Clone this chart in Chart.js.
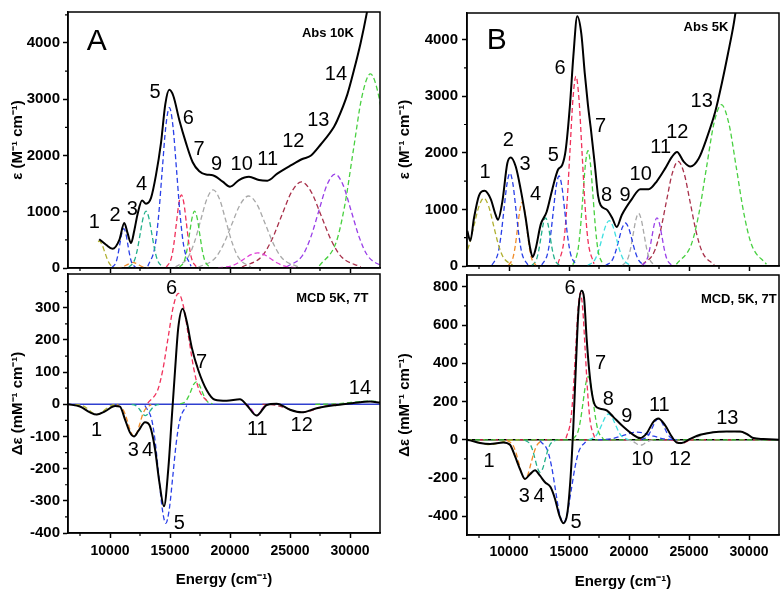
<html>
<head>
<script src="https://cdn.jsdelivr.net/npm/chart.js@4"></script>
<style>
  body { margin:0; background:#fff; width:784px; height:592px; position:relative; overflow:hidden; }
  canvas { position:absolute; }
</style>
</head>
<body>
<canvas id="absA" width="384" height="280" style="left:0;top:0"></canvas>
<canvas id="absB" width="394" height="280" style="left:390px;top:0"></canvas>
<canvas id="mcdA" width="384" height="330" style="left:0;top:262px"></canvas>
<canvas id="mcdB" width="394" height="330" style="left:390px;top:262px"></canvas>
<script>
// ---- data (energy in cm-1) ----
const xMajor = [10000, 15000, 20000, 25000, 30000];
const xMinor = [7500, 12500, 17500, 22500, 27500];

const OLIVE = '#b0b030', BLUE = '#2a40e8', ORANGE = '#f08c28', TEAL = '#22b08a',
      RED = '#f0305a', GREEN = '#48d040', GRAY = '#a8a8a8', MAGENTA = '#e040d8',
      MAROON = '#a8304a', PURPLE = '#9a40e8', CYAN = '#40e0e0';

// panel A, absorption 10K
const absA = [[9100,512],[9670,414],[10220,340],[10780,500],[11190,800],[11470,615],[11750,443],[12030,672],[12300,960],
  [12670,1200],[13000,1143],[13420,1247],[13830,1650],[14250,2224],[14610,2914],[14940,3167],[15280,3057],[15780,2626],
  [16330,2224],[16890,1880],[17440,1719],[18000,1661],[18560,1650],[19390,1534],[20000,1445],[20750,1563],[21580,1620],
  [22420,1563],[23110,1552],[23940,1678],[25060,1822],[26030,1937],[26720,1994],[27560,2195],[28670,2512],[28940,2626],
  [29780,3086],[30330,3517],[30890,4005],[31390,4522],[31700,4900]];
const absABands = [
  [[9000,470],[9100,480],[9325,423],[9550,291],[9775,156],[10000,65],[10450,5],[11000,0]],
  [[10160,8],[10490,95],[10655,228],[10820,425],[10985,617],[11150,700],[11315,617],[11480,425],[11645,228],[11810,95],[12140,8]],
  [[10550,1],[11000,14],[11450,61],[11675,88],[11900,100],[12125,88],[12350,61],[12800,14],[13250,1]],
  [[11560,11],[12040,136],[12280,328],[12520,613],[12760,891],[13000,1010],[13240,891],[13480,613],[13720,328],[13960,136],[14440,11]],
  [[13150,31],[13750,385],[14050,926],[14350,1730],[14650,2514],[14950,2850],[15250,2514],[15550,1730],[15850,926],[16150,385],[16750,31]],
  [[14690,14],[15110,176],[15320,423],[15530,789],[15740,1147],[15950,1300],[16160,1147],[16370,789],[16580,423],[16790,176],[17210,14]],
  [[15790,11],[16210,136],[16420,328],[16630,613],[16840,891],[17050,1010],[17260,891],[17470,613],[17680,328],[17890,136],[18310,11]],
  [[15450,15],[16500,188],[17025,452],[17550,844],[18075,1226],[18600,1390],[19125,1226],[19650,844],[20175,452],[20700,188],[21750,15]],
  [[17350,14],[18750,173],[19450,416],[20150,777],[20850,1129],[21550,1280],[22250,1129],[22950,777],[23650,416],[24350,173],[25750,14]],
  [[19000,3],[20100,36],[20650,88],[21200,164],[21750,238],[22300,270],[22850,238],[23400,164],[23950,88],[24500,36],[25600,3]],
  [[21000,17],[22650,207],[23475,497],[24300,929],[25125,1349],[25950,1530],[26775,1349],[27600,929],[28425,497],[29250,207],[30900,17]],
  [[24700,18],[26050,225],[26725,543],[27400,1014],[28075,1473],[28750,1670],[29425,1473],[30100,1014],[30775,543],[31450,225],[32800,18]],
  [[27440,38],[28860,466],[29570,1121],[30280,2094],[30990,3043],[31700,3450],[32410,3043],[33120,2094]]
];
const absAColors = [OLIVE, BLUE, ORANGE, TEAL, BLUE, RED, GREEN, GRAY, GRAY, MAGENTA, MAROON, PURPLE, GREEN];
const absALabels = [[8690,816,'1'],[10420,931,'2'],[11860,1046,'3'],[12640,1488,'4'],[13750,3115,'5'],[16530,2655,'6'],
  [17420,2109,'7'],[18890,1840,'9'],[20970,1840,'10'],[23140,1936,'11'],[25280,2253,'12'],[27360,2626,'13'],[28830,3431,'14']];

// panel B, absorption 5K
const absB = [[6520,620],[6780,445],[7080,844],[7500,1245],[7970,1330],[8470,1187],[8890,902],[9080,817],[9440,1130],
  [9860,1815],[10140,1918],[10560,1758],[10970,1358],[11390,844],[11750,330],[11970,160],[12220,303],[12640,731],
  [13140,959],[13610,1358],[14080,1700],[14440,1786],[14720,2043],[15080,2842],[15360,3699],[15690,4413],[16030,4098],
  [16310,3413],[16580,2842],[16810,2443],[17140,1815],[17420,1245],[17640,1074],[18190,988],[18610,844],[18980,690],
  [19400,902],[20250,1187],[20940,1358],[21640,1358],[22330,1501],[23030,1729],[23580,1929],[24000,2015],[24560,1844],
  [25110,1758],[25810,1900],[26500,2272],[27190,2728],[27750,3242],[28250,3755],[28720,4269],[29100,4800]];
const absBBands = [
  [[5500,13],[6300,162],[6700,390],[7100,728],[7500,1058],[7900,1200],[8300,1058],[8700,728],[9100,390],[9500,162],[10300,13]],
  [[8580,18],[9080,221],[9330,533],[9580,995],[9830,1446],[10080,1640],[10330,1446],[10580,995],[10830,533],[11080,221],[11580,18]],
  [[9960,12],[10340,153],[10530,367],[10720,686],[10910,997],[11100,1130],[11290,997],[11480,686],[11670,367],[11860,153],[12240,12]],
  [[11910,9],[12290,115],[12480,276],[12670,516],[12860,750],[13050,850],[13240,750],[13430,516],[13620,276],[13810,115],[14190,9]],
  [[12730,17],[13210,215],[13450,517],[13690,965],[13930,1402],[14170,1590],[14410,1402],[14650,965],[14890,517],[15130,215],[15610,17]],
  [[14080,37],[14580,452],[14830,1089],[15080,2033],[15330,2955],[15580,3350],[15830,2955],[16080,2033],[16330,1089],[16580,452],[17080,37]],
  [[15320,22],[15740,275],[15950,663],[16160,1238],[16370,1799],[16580,2040],[16790,1799],[17000,1238],[17210,663],[17420,275],[17840,22]],
  [[16550,9],[17150,108],[17450,260],[17750,486],[18050,706],[18350,800],[18650,706],[18950,486],[19250,260],[19550,108],[20150,9]],
  [[18050,8],[18600,103],[18875,247],[19150,461],[19425,670],[19700,760],[19975,670],[20250,461],[20525,247],[20800,103],[21350,8]],
  [[19450,10],[19900,126],[20125,302],[20350,565],[20575,820],[20800,930],[21025,820],[21250,565],[21475,302],[21700,126],[22150,10]],
  [[21070,9],[21490,115],[21700,276],[21910,516],[22120,750],[22330,850],[22540,750],[22750,516],[22960,276],[23170,115],[23590,9]],
  [[21100,20],[22100,250],[22600,601],[23100,1123],[23600,1632],[24100,1850],[24600,1632],[25100,1123],[25600,601],[26100,250],[27100,20]],
  [[23950,31],[25200,385],[25825,926],[26450,1730],[27075,2514],[27700,2850],[28325,2514],[28950,1730],[29575,926],[30200,385],[31450,31]]
];
const absBColors = [OLIVE, BLUE, ORANGE, TEAL, BLUE, RED, GREEN, CYAN, BLUE, GRAY, PURPLE, MAROON, GREEN];
const absBLabels = [[8000,1644,'1'],[9940,2214,'2'],[11330,1786,'3'],[12220,1255,'4'],[13690,1957,'5'],[14250,3498,'6'],
  [17640,2471,'7'],[18140,1245,'8'],[19670,1245,'9'],[20970,1615,'10'],[22640,2089,'11'],[24030,2358,'12'],[26060,2899,'13']];

// panel A, MCD 5K 7T
const mcdA = [[6500,0],[7500,-7],[8330,-25],[8890,-32],[9580,-22],[10420,-5],[10830,-7],[11250,-47],[11670,-88],[12000,-100],
  [12360,-83],[12920,-56],[13330,-68],[13750,-139],[14110,-241],[14500,-317],[14860,-200],[15140,-47],[15420,105],[15690,238],
  [16060,297],[16390,258],[16810,177],[17360,106],[18060,44],[18750,14],[19720,11],[20830,16],[21390,-2],[22220,-35],
  [23060,-2],[23890,2],[25000,-17],[25970,-25],[27220,-12],[28890,-2],[30280,4],[31670,9],[32500,5]];
const mcdABands = [
  [[7100,0],[7700,-4],[8300,-19],[8600,-28],[8900,-32],[9200,-28],[9500,-19],[10100,-4],[10700,0]],
  [[10560,-1],[11040,-14],[11280,-32],[11520,-61],[11760,-88],[12000,-100],[12240,-88],[12480,-61],[12720,-32],[12960,-14],[13440,-1]],
  [[11810,0],[12190,-5],[12570,-21],[12760,-31],[12950,-35],[13140,-31],[13330,-21],[13710,-5],[14090,0]],
  [[12910,-4],[13490,-50],[13780,-120],[14070,-225],[14360,-326],[14650,-370],[14940,-326],[15230,-225],[15520,-120],[15810,-50],[16390,-4]],
  [[13150,4],[14000,47],[14425,112],[14850,209],[15275,304],[15700,345],[16125,304],[16550,209],[16975,112],[17400,47],[18250,4]],
  [[15850,1],[16300,9],[16525,23],[16750,42],[16975,62],[17200,70],[17425,62],[17650,42],[17875,23],[18100,9],[18550,1]],
  [[21230,0],[21560,-5],[21890,-21],[22055,-31],[22220,-35],[22385,-31],[22550,-21],[22880,-5],[23210,0]],
  [[22700,0],[23800,-3],[24900,-15],[25450,-22],[26000,-25],[26550,-22],[27100,-15],[28200,-3],[29300,0]],
  [[27100,0],[28600,1],[30100,6],[31600,10],[32500,8]]
];
const mcdAColors = [OLIVE, ORANGE, TEAL, BLUE, RED, GREEN, MAGENTA, MAROON, GREEN];
const mcdALabels = [[8890,-82,'1'],[11940,-145,'3'],[13140,-145,'4'],[15780,-369,'5'],[15140,359,'6'],[17640,130,'7'],
  [22280,-77,'11'],[25970,-67,'12'],[30830,48,'14']];

// panel B, MCD 5K 7T
const mcdB = [[6500,0],[6750,-3],[7580,-17],[8420,-22],[9530,-14],[10080,-26],[10500,-86],[10920,-154],[11330,-205],
  [11750,-180],[12170,-159],[12580,-188],[13000,-222],[13470,-248],[13830,-308],[14190,-394],[14530,-436],[14860,-385],
  [15140,-188],[15360,68],[15580,394],[15780,667],[16030,779],[16250,744],[16470,530],[16690,359],[16920,240],[17170,180],
  [17580,163],[18140,154],[18690,120],[19530,68],[20360,26],[20920,9],[21470,34],[22030,94],[22440,111],[23000,77],
  [23560,17],[23970,-14],[24390,-17],[25080,4],[25920,26],[27030,40],[28140,43],[29250,43],[29810,31],[30360,9],
  [31190,4],[32580,0]];
const mcdBBands = [
  [[6000,0],[6800,-3],[7600,-15],[8000,-22],[8400,-25],[8800,-22],[9200,-15],[10000,-3],[10800,0]],
  [[9830,-2],[10330,-28],[10580,-67],[10830,-124],[11080,-181],[11330,-205],[11580,-181],[11830,-124],[12080,-67],[12330,-28],[12830,-2]],
  [[11340,-2],[11760,-23],[11970,-55],[12180,-103],[12390,-150],[12600,-170],[12810,-150],[13020,-103],[13230,-55],[13440,-23],[13860,-2]],
  [[12580,-5],[13230,-59],[13555,-142],[13880,-265],[14205,-385],[14530,-436],[14855,-385],[15180,-265],[15505,-142],[15830,-59],[16480,-5]],
  [[14750,8],[15150,104],[15350,250],[15550,467],[15750,679],[15950,770],[16150,679],[16350,467],[16550,250],[16750,104],[17150,8]],
  [[15340,4],[15760,45],[15970,107],[16180,200],[16390,291],[16600,330],[16810,291],[17020,200],[17230,107],[17440,45],[17860,4]],
  [[16650,1],[17200,18],[17475,44],[17750,82],[18025,119],[18300,135],[18575,119],[18850,82],[19125,44],[19400,18],[19950,1]],
  [[17400,0],[18500,5],[19600,24],[20150,35],[20700,40],[21250,35],[21800,24],[22900,5],[24000,0]],
  [[19750,0],[20150,-4],[20550,-17],[20750,-25],[20950,-28],[21150,-25],[21350,-17],[21750,-4],[22150,0]],
  [[21010,1],[21490,15],[21730,36],[21970,67],[22210,97],[22450,110],[22690,97],[22930,67],[23170,36],[23410,15],[23890,1]],
  [[23300,0],[23650,-3],[24000,-12],[24175,-18],[24350,-20],[24525,-18],[24700,-12],[25050,-3],[25400,0]],
  [[25000,0],[25700,15],[26500,35],[27500,42],[28500,43],[29300,40],[29900,25],[30500,5],[31000,0]]
];
const mcdBColors = [OLIVE, ORANGE, TEAL, BLUE, RED, GREEN, CYAN, BLUE, GRAY, BLUE, RED, GRAY];
const mcdBLabels = [[8330,-113,'1'],[11280,-298,'3'],[12500,-298,'4'],[15580,-430,'5'],[15080,790,'6'],[17640,400,'7'],
  [18280,209,'8'],[19810,123,'9'],[21110,-104,'10'],[22530,178,'11'],[24250,-104,'12'],[28190,109,'13']];

const baseline = [[6500,0],[32500,0]];

const FONT = '"Liberation Sans", Arial, sans-serif';
Chart.defaults.font.family = FONT;
Chart.defaults.color = '#000';

function toXY(pts) { return pts.map(p => ({x: p[0], y: p[1]})); }

// frame, minor ticks and text
const panelDeco = {
  id: 'panelDeco',
  afterDraw(chart, args, o) {
    const {ctx, chartArea: a} = chart;
    const x = chart.scales.x, y = chart.scales.y;
    ctx.save();
    ctx.strokeStyle = '#000';
    ctx.lineWidth = 1.5;
    ctx.strokeRect(a.left, a.top, a.right - a.left, a.bottom - a.top);
    ctx.lineWidth = 1.2;
    ctx.beginPath();
    xMinor.forEach(v => { const p = x.getPixelForValue(v); ctx.moveTo(p, a.bottom); ctx.lineTo(p, a.bottom + 3); });
    o.minorY.forEach(v => { const p = y.getPixelForValue(v); ctx.moveTo(a.left, p); ctx.lineTo(a.left - 3, p); });
    ctx.stroke();
    ctx.fillStyle = '#000';
    ctx.textBaseline = 'middle';
    ctx.textAlign = 'center';
    ctx.font = '20px ' + FONT;
    o.labels.forEach(l => ctx.fillText(l[2], x.getPixelForValue(l[0]), y.getPixelForValue(l[1])));
    if (o.letter) {
      ctx.font = '30px ' + FONT;
      ctx.fillText(o.letter[2], x.getPixelForValue(o.letter[0]), y.getPixelForValue(o.letter[1]));
    }
    ctx.textAlign = 'right';
    ctx.font = 'bold 13px ' + FONT;
    ctx.fillText(o.tag[2], x.getPixelForValue(o.tag[0]), y.getPixelForValue(o.tag[1]));
    ctx.restore();
  }
};

function makePanel(id, c) {
  const datasets = [{data: toXY(c.main), borderColor: '#000', borderWidth: 2}];
  c.bands.forEach((b, i) => datasets.push({data: toXY(b), borderColor: c.colors[i], borderWidth: 1.3, borderDash: [5, 3]}));
  (c.zero || []).forEach(z => datasets.push({data: toXY(baseline), borderColor: z[0], borderWidth: z[1], borderDash: z[2]}));

  new Chart(document.getElementById(id), {
    type: 'line',
    data: {datasets},
    plugins: [panelDeco],
    options: {
      responsive: false,
      animation: false,
      layout: {padding: {top: c.padTop, right: c.padRight, left: 0, bottom: 0}},
      elements: {point: {radius: 0}, line: {cubicInterpolationMode: 'monotone', fill: false}},
      plugins: {
        legend: {display: false},
        tooltip: {enabled: false},
        panelDeco: {minorY: c.minorY, labels: c.labels, letter: c.letter, tag: c.tag}
      },
      scales: {
        x: {
          type: 'linear', min: 6500, max: 32500,
          afterBuildTicks: s => { s.ticks = xMajor.map(v => ({value: v})); },
          afterFit: s => { s.height = c.xh; },
          grid: {drawOnChartArea: false, tickLength: 5, tickColor: '#000', tickWidth: 1.5},
          border: {color: '#000', width: 1.5},
          ticks: {display: c.xLabels, padding: c.xTickPad, maxRotation: 0, font: {size: 14, weight: 'bold'}, callback: v => String(v)},
          title: {display: c.xLabels, text: 'Energy (cm⁻¹)', font: {size: 15, weight: 'bold'}, padding: {top: 0, bottom: c.xTitlePad}}
        },
        y: {
          min: c.yMin, max: c.yMax,
          afterBuildTicks: s => { s.ticks = c.yTicks.map(v => ({value: v})); },
          afterFit: s => { s.width = c.yw; },
          grid: {drawOnChartArea: false, tickLength: 5, tickColor: '#000', tickWidth: 1.5},
          border: {color: '#000', width: 1.5},
          ticks: {padding: c.yTickPad, font: {size: 15, weight: 'bold'}, callback: v => String(v)},
          title: {display: true, text: c.yTitle, font: {size: 15, weight: 'bold'}, padding: {top: c.yTitlePad, bottom: 0}}
        }
      }
    }
  });
}

makePanel('absA', {
  main: absA, bands: absABands, colors: absAColors, labels: absALabels,
  letter: [8890, 4022, 'A'], tag: [30330, 4172, 'Abs 10K'],
  yMin: 0, yMax: 4550, yTicks: [0, 1000, 2000, 3000, 4000], minorY: [500, 1500, 2500, 3500, 4500],
  yTitle: 'ε (M⁻¹ cm⁻¹)', padTop: 5, padRight: 4, yw: 68, xh: 11, xLabels: false,
  yTickPad: 3, yTitlePad: 9
});
makePanel('absB', {
  main: absB, bands: absBBands, colors: absBColors, labels: absBLabels,
  letter: [8970, 3985, 'B'], tag: [28280, 4212, 'Abs 5K'],
  yMin: 0, yMax: 4470, yTicks: [0, 1000, 2000, 3000, 4000], minorY: [500, 1500, 2500, 3500],
  yTitle: 'ε (M⁻¹ cm⁻¹)', padTop: 5, padRight: 5, yw: 77, xh: 14, xLabels: false,
  yTickPad: 4, yTitlePad: 6
});
makePanel('mcdA', {
  main: mcdA, bands: mcdABands, colors: mcdAColors, labels: mcdALabels,
  tag: [31530, 329, 'MCD 5K, 7T'], zero: [['#3040d0', 1.5, []]],
  yMin: -400, yMax: 405, yTicks: [-400, -300, -200, -100, 0, 100, 200, 300],
  minorY: [-350, -250, -150, -50, 50, 150, 250, 350],
  yTitle: 'Δε (mM⁻¹ cm⁻¹)', padTop: 8, padRight: 4, yw: 68, xh: 59, xLabels: true,
  xTickPad: 5, xTitlePad: 3, yTickPad: 3, yTitlePad: 9
});
makePanel('mcdB', {
  main: mcdB, bands: mcdBBands, colors: mcdBColors, labels: mcdBLabels,
  tag: [32310, 734, 'MCD, 5K, 7T'], zero: [[GREEN, 1.3, [5, 3]], [RED, 1.3, [5, 8]], ['#000', 1.5, []]],
  yMin: -498, yMax: 862, yTicks: [-400, -200, 0, 200, 400, 600, 800],
  minorY: [-300, -100, 100, 300, 500, 700],
  yTitle: 'Δε (mM⁻¹ cm⁻¹)', padTop: 8, padRight: 5, yw: 77, xh: 57, xLabels: true,
  xTickPad: 4, xTitlePad: 1, yTickPad: 4, yTitlePad: 6
});
</script>
</body>
</html>
